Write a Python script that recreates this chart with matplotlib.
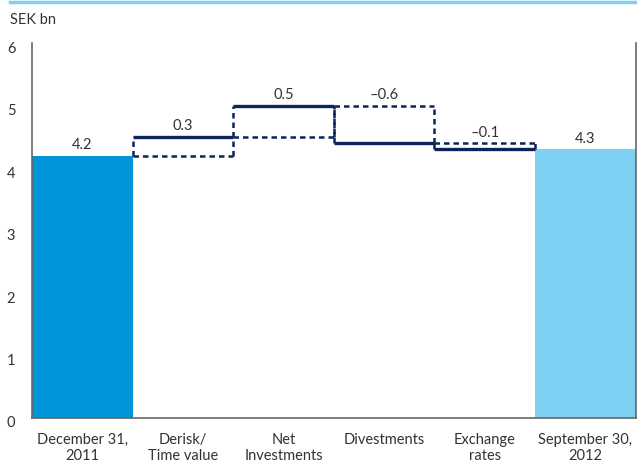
import matplotlib
matplotlib.use("Agg")
import matplotlib.pyplot as plt
import matplotlib.transforms as mtransforms
from matplotlib.lines import Line2D

plt.rcParams['font.family'] = ['Liberation Sans Narrow', 'Lato', 'DejaVu Sans']

categories = ["December 31,\n2011", "Derisk/\nTime value", "Net\nInvestments",
              "Divestments", "Exchange\nrates", "September 30,\n2012"]
start_value = 4.2
changes = [0.3, 0.5, -0.6, -0.1]
end_value = 4.3
change_labels = ["0.3", "0.5", "\u20130.6", "\u20130.1"]

start_color = "#0095d9"
end_color = "#7fd1f3"
step_color = "#0b2559"
text_color = "#333333"
fs = 10.5

fig = plt.figure(figsize=(6.37, 4.64), dpi=100)
ax = fig.add_axes([0.0502, 0.097, 0.9476, 0.808])

n = len(categories)
ax.bar(0, start_value, width=1.0, color=start_color, zorder=2)
ax.bar(n - 1, end_value, width=1.0, color=end_color, zorder=2)
ax.text(0, start_value + 0.07, f"{start_value:.1f}", ha="center", va="bottom",
        fontsize=fs, color=text_color)
ax.text(n - 1, end_value + 0.07, f"{end_value:.1f}", ha="center", va="bottom",
        fontsize=fs, color=text_color)

dash = (0, (2.2, 1.6))
level = start_value
for i, (d, lab) in enumerate(zip(changes, change_labels), start=1):
    new = level + d
    x0, x1 = i - 0.5, i + 0.5
    lo, hi = min(level, new), max(level, new)
    # dashed outline of the step box
    ax.vlines([x0, x1], lo, hi, colors=step_color, linestyles=dash, lw=1.8, zorder=3)
    ax.hlines(level, x0, x1, colors=step_color, linestyles=dash, lw=1.8, zorder=3)
    # solid line at the new level
    ax.hlines(new, x0, x1, colors=step_color, linestyles="solid", lw=2.4, zorder=4)
    ax.text(i, hi + 0.07, lab, ha="center", va="bottom", fontsize=fs, color=text_color)
    level = new

ax.set_xlim(-0.5, n - 0.5)
ax.set_ylim(0, 6)
ax.set_yticks(range(0, 7))
ax.set_xticks(range(n))
ax.set_xticklabels(categories, fontsize=fs, color=text_color, linespacing=1.15)
ax.tick_params(axis="y", length=0, pad=12, labelsize=fs, labelcolor=text_color)
ax.tick_params(axis="x", length=0, pad=10)

# nudge the value-axis numbers slightly downward
shift = mtransforms.ScaledTranslation(0, -3 / 100, fig.dpi_scale_trans)
for lbl in ax.get_yticklabels():
    lbl.set_transform(lbl.get_transform() + shift)

for side in ("left", "right", "bottom"):
    ax.spines[side].set_color("#666666")
    ax.spines[side].set_linewidth(1.2)
ax.spines["top"].set_visible(False)

fig.text(10 / 637, 1 - 20 / 464, "SEK bn", ha="left", va="center",
         fontsize=fs, color=text_color)

# light blue rule along the top of the figure
fig.add_artist(Line2D([10 / 637, 1.0], [1 - 3 / 464, 1 - 3 / 464],
                      transform=fig.transFigure, color="#7fd0f2", lw=2.5))

fig.savefig("out.png", dpi=100)
